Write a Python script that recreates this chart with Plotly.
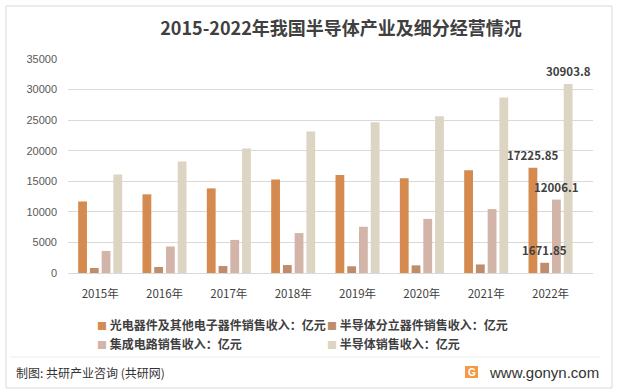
import plotly.graph_objects as go

years = ["2015年", "2016年", "2017年", "2018年", "2019年", "2020年", "2021年", "2022年"]
optoelectronic = [11700, 12870, 13840, 15310, 16040, 15500, 16800, 17225.85]
discrete = [820, 980, 1140, 1300, 1100, 1250, 1400, 1671.85]
ic_sales = [3609.8, 4335.5, 5411.3, 6531.4, 7562.3, 8848.0, 10458.3, 12006.1]
semiconductor = [16130, 18240, 20360, 23130, 24640, 25620, 28700, 30903.8]

names = ["光电器件及其他电子器件销售收入：亿元", "半导体分立器件销售收入：亿元",
         "集成电路销售收入：亿元", "半导体销售收入：亿元"]
colors = ["#D58B4F", "#C08D6C", "#D3B4A9", "#DDD5C3"]
series = [optoelectronic, discrete, ic_sales, semiconductor]
label_texts = ["17225.85", "1671.85", "12006.1", "30903.8"]

CJK = "Noto Sans CJK SC, Microsoft YaHei, sans-serif"
W, H = 617, 390
L, R, T, B = 68, 24, 59, 117
pw, ph = W - L - R, H - T - B
BARGAP = 0.27
slot = pw / len(years) * (1 - BARGAP) / len(series)

def px(x):
    return (x - L) / pw

def py(y):
    return (H - B - y) / ph

fig = go.Figure()
annotations = []
for i, (name, col, vals, lab) in enumerate(zip(names, colors, series, label_texts)):
    fig.add_trace(go.Bar(
        x=years, y=vals, name=name, marker=dict(color=col, line=dict(width=0)),
        showlegend=False))
    legend_name = ('<span style="color:%s;font-size:10px">■</span> %s' % (col, name))
    fig.add_trace(go.Scatter(
        x=[None], y=[None], mode="markers", name=legend_name,
        marker=dict(symbol="square", size=1, color="rgba(0,0,0,0)",
                    line=dict(width=0, color="rgba(0,0,0,0)"))))
    annotations.append(dict(
        text=lab, x=years[-1], y=vals[-1], xref="x", yref="y",
        xshift=(i - (len(series) - 1) / 2) * slot, yshift=13,
        xanchor="center", yanchor="middle", showarrow=False,
        font=dict(family=CJK, size=11.5, color="#404040", weight="bold")))

annotations += [
    dict(text="制图: 共研产业咨询 (共研网)", xref="paper", yref="paper", x=px(14), y=py(372),
         xanchor="left", yanchor="middle", showarrow=False,
         font=dict(family=CJK, size=12, color="#333333")),
    dict(text="www.gonyn.com", xref="paper", yref="paper", x=px(487), y=py(372),
         xanchor="left", yanchor="middle", showarrow=False,
         font=dict(family="Liberation Sans, Arial, sans-serif", size=15, color="#333333")),
    dict(text="<b>G</b>", xref="paper", yref="paper", x=px(471.5), y=py(372),
         xanchor="center", yanchor="middle", showarrow=False,
         font=dict(family="Liberation Sans, Arial, sans-serif", size=10, color="white")),
]

fig.update_layout(
    width=W, height=H,
    margin=dict(l=L, r=R, t=T, b=B),
    paper_bgcolor="white", plot_bgcolor="white",
    barmode="group", bargap=BARGAP, bargroupgap=0.25,
    title=dict(text="2015-2022年我国半导体产业及细分经营情况",
               x=341 / W, y=1 - 29 / H, xanchor="center", yanchor="middle",
               font=dict(family=CJK, size=18, color="#404040", weight="bold")),
    xaxis=dict(showgrid=False, showline=False, ticks="", ticklabelstandoff=12,
               tickfont=dict(family=CJK, size=11.5, color="#404040")),
    yaxis=dict(range=[0, 35000], tickvals=[0, 5000, 10000, 15000, 20000, 25000, 30000, 35000],
               tickformat="d",
               showgrid=True, gridcolor="#D9D9D9", gridwidth=1, zeroline=True,
               zerolinecolor="#D9D9D9", zerolinewidth=1, showline=False, ticks="",
               ticklabelstandoff=10,
               tickfont=dict(family="Liberation Sans, Arial, sans-serif", size=11, color="#595959")),
    legend=dict(orientation="h", x=px(57), y=py(311), xanchor="left", yanchor="top",
                entrywidth=185, entrywidthmode="pixels", itemwidth=30, tracegroupgap=0,
                font=dict(family=CJK, size=12, color="#404040", weight="bold"),
                bgcolor="rgba(0,0,0,0)"),
    shapes=[
        dict(type="rect", xref="paper", yref="paper", x0=px(6), x1=px(612), y0=py(388), y1=py(6),
             line=dict(color="#D9D9D9", width=1), fillcolor="rgba(0,0,0,0)", layer="below"),
        dict(type="line", xref="paper", yref="paper", x0=px(10), x1=px(600), y0=py(357), y1=py(357),
             line=dict(color="#EEEEEE", width=1)),
        dict(type="rect", xref="paper", yref="paper", x0=px(465), x1=px(478), y0=py(378), y1=py(366),
             line=dict(width=0), fillcolor="#F39A45"),
    ],
    annotations=annotations,
)

fig.write_html("out.html", post_script="document.body.style.margin='0px';",
               config={"displayModeBar": False})
